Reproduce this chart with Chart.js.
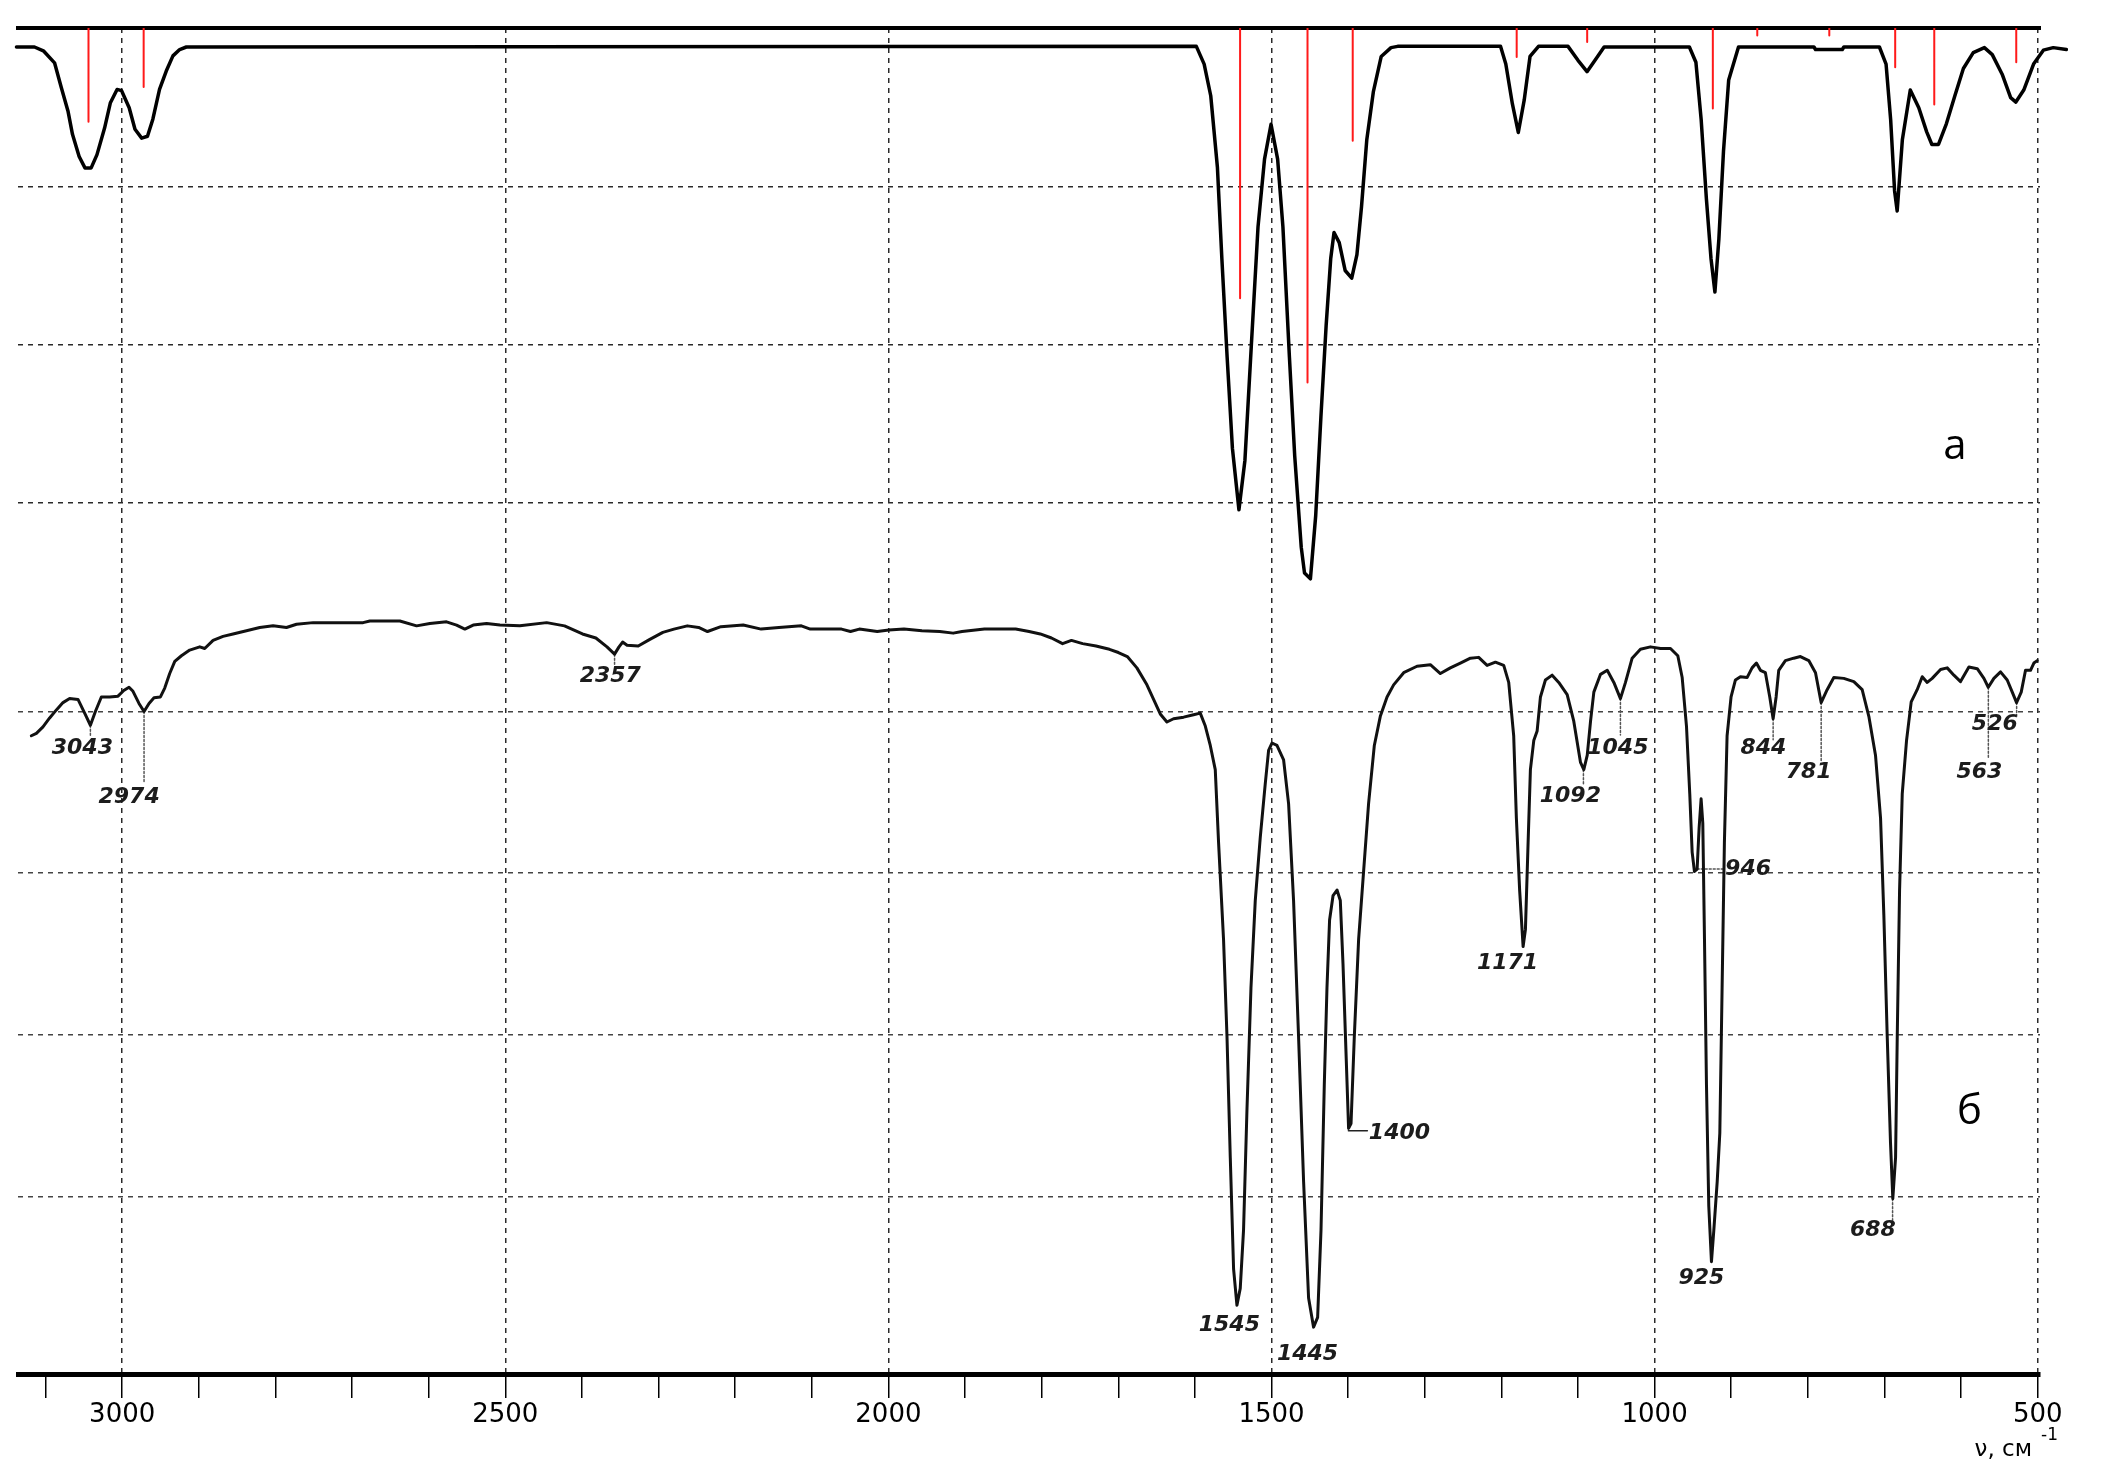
<!DOCTYPE html>
<html lang="ru">
<head>
<meta charset="UTF-8">
<title>ИК-спектры</title>
<script src="https://cdn.jsdelivr.net/npm/chart.js@4.4.1/dist/chart.umd.min.js"></script>
<style>
  html, body { margin: 0; padding: 0; background: #fff; overflow: hidden; }
  canvas { display: block; }
</style>
</head>
<body>
<canvas id="spectra" width="2126" height="1483"></canvas>
<script>
// spectrum (а): calculated, wavenumber cm-1 / transmittance
const specAWn = [3138, 3114.5, 3102.9, 3088.3, 3079.5, 3070.8, 3064.9, 3056.2, 3048.6, 3040.5, 3032.9, 3023, 3015.4,
  3006.7, 3000.8, 2990.9, 2983.3, 2974.6, 2967, 2960, 2951.3, 2942.5, 2933.8, 2925, 2916.3,
  1598.1, 1587.9, 1579.3, 1570.6, 1564.8, 1557.9, 1551, 1542.5, 1534.7, 1526.3, 1517.6, 1509.1, 1500.6,
  1492, 1485.1, 1476.6, 1469.7, 1461.2, 1456.9, 1449.2, 1442.3, 1435.5, 1428.7, 1422.7, 1418.4, 1411.6,
  1403.9, 1395.3, 1388.5, 1382.5, 1375.6, 1367.1, 1356.8, 1344, 1335.4,
  1201.1, 1194.2, 1185.6, 1177.9, 1170.2, 1162.6, 1151.5, 1113, 1100, 1088.2, 1076.2, 1065.9,
  954.6, 946.1, 939.2, 932.4, 926.4, 921.3, 916.1, 910.1, 903.3, 890.5, 792, 790, 755, 753,
  706.6, 697.9, 691.9, 686.8, 683.4, 676.6, 666.3, 655.2, 644.9, 638.1, 629.5, 619.1, 608.1, 597,
  584.1, 569.6, 559.3, 546.4, 535.3, 528.5, 518.2, 505.4, 492.6, 479.7, 462.6];
const specAT = [97.0, 97.0, 96.4, 94.5, 90.6, 86.9, 83.2, 79.7, 77.9, 77.9, 80.0, 84.2, 88.2,
  90.3, 90.1, 87.4, 84.0, 82.6, 82.9, 85.6, 90.3, 93.2, 95.6, 96.6, 97.0,
  97.1, 94.3, 89.3, 78.0, 63.6, 48.0, 33.6, 23.9, 31.7, 49.9, 68.6, 79.3, 84.8,
  79.3, 68.6, 48.0, 32.4, 18.0, 13.9, 13.0, 23.0, 38.6, 53.0, 63.6, 67.7, 66.1,
  61.7, 60.5, 64.2, 71.8, 82.4, 89.9, 95.5, 96.9, 97.1,
  97.1, 94.3, 88.0, 83.5, 88.6, 95.5, 97.1, 97.1, 94.9, 93.1, 95.2, 97.0,
  97.0, 94.6, 85.5, 73.0, 63.6, 58.3, 66.7, 80.5, 91.8, 97.0, 97.0, 96.6, 96.6, 97.0,
  97.0, 94.3, 85.5, 74.3, 71.1, 82.4, 90.2, 87.4, 83.6, 81.6, 81.6, 84.9, 89.3, 93.6,
  96.1, 96.9, 95.8, 92.7, 89.0, 88.3, 90.2, 94.3, 96.5, 96.9, 96.6];

// calculated band positions (red sticks) and the level each stick reaches
const stickWn = [3044, 2972, 1541, 1453, 1394, 1180, 1088, 924, 866, 772, 686, 635, 528];
const stickT = [85.2, 90.7, 57.3, 44.0, 82.2, 95.4, 97.8, 87.3, 98.8, 98.8, 93.8, 87.9, 94.6];

// spectrum (б): experimental
const specBWn = [3118.6, 3112, 3103.4, 3094.7, 3085.9, 3077.3, 3068.6, 3057.7, 3049, 3041.5, 3035, 3027.2, 3016.3,
  3005.5, 2998, 2991.1, 2985.9, 2978.1, 2971.5, 2965, 2958.5, 2950.1, 2944.5, 2938, 2931.4, 2922.7, 2911.9,
  2898.8, 2892.3, 2881.4, 2868.4, 2855.3, 2837.8, 2820.5, 2803.1, 2785.6, 2772.5, 2750.8, 2685.6, 2676.8,
  2637.6, 2615.8, 2598.5, 2576.7, 2563.6, 2552.8, 2541.9, 2524.4, 2507, 2481, 2446, 2422.7, 2399.3, 2381.8,
  2367.3, 2357.4, 2351.6, 2346.9, 2341.1, 2326.5, 2311.9, 2294.4, 2279.9, 2262.4, 2247.7, 2236.1, 2218.6,
  2189.5, 2166.1, 2142.9, 2113.6, 2102, 2061.2, 2049.5, 2037.9, 2014.6, 1999.4, 1979.7, 1956.3, 1933,
  1915.5, 1903.9, 1874.7, 1851.4, 1833.9, 1816.4, 1801.8, 1787.2, 1772.7, 1761.1, 1746.5, 1729, 1711.5,
  1699.8, 1688.2, 1675.7, 1662.6, 1653.9, 1645.2, 1636.5, 1627.8, 1614.7, 1601.7, 1593, 1586.4, 1579.9,
  1573.4, 1569.1, 1562.6, 1558.1, 1553.8, 1549.5, 1545.1, 1540.8, 1536.5, 1532, 1526.8, 1521.2, 1514.7,
  1508.2, 1503.8, 1499.4, 1492.9, 1484.2, 1477.7, 1471.2, 1464.7, 1458.1, 1451.6, 1445.1, 1439.8, 1435.4,
  1431.1, 1427.6, 1424.2, 1419.7, 1414.5, 1410.2, 1406.7, 1402.4, 1399.4, 1396.2, 1391.9, 1386.3, 1379.8,
  1373.3, 1365.8, 1358, 1349.2, 1340.6, 1327.5, 1310.1, 1292.7, 1279.6, 1266.6, 1253.5, 1240.4, 1229.6,
  1218.6, 1207.8, 1196.9, 1190.4, 1183.9, 1180.4, 1176.1, 1171.6, 1168.6, 1165.1, 1162.1, 1157.7, 1153.3,
  1149, 1142.5, 1133.7, 1125.1, 1114.1, 1105.5, 1096.7, 1092.4, 1087.9, 1083.6, 1079.3, 1070.6, 1061.8,
  1053.2, 1044.6, 1038, 1029.3, 1018.5, 1005.4, 992.3, 979.3, 969.7, 964, 958.4, 954.1, 951, 948, 944.5,
  941.9, 939.3, 937.1, 934.9, 932.3, 929.3, 925.8, 922.7, 918.3, 914.9, 911.9, 908.9, 905.4, 900.2, 894.5,
  888, 879.3, 872.8, 867.1, 861.9, 855.4, 849.7, 845.3, 841.4, 838, 829.3, 818.4, 809.7, 798.8, 790,
  782.6, 774.8, 766.1, 753.1, 740, 729.1, 720.4, 711.7, 705.1, 700.8, 696.4, 692.1, 689.1, 685.5, 683.3,
  680.3, 676.8, 671.2, 665.1, 657.3, 650.7, 644.2, 637.7, 626.8, 618.1, 609.4, 600.7, 589.8, 578.9, 570.2,
  564.5, 557.2, 548.5, 539.8, 533.2, 527.6, 521.5, 515.9, 509.4, 505, 500.6];
const specBT = [77.0, 77.3, 78.1, 79.2, 80.2, 81.1, 81.6, 81.5, 79.8, 78.3, 80.0, 81.8, 81.8,
  81.9, 82.6, 83.0, 82.5, 81.0, 80.0, 81.0, 81.7, 81.8, 82.9, 84.7, 86.2, 86.9, 87.6,
  88.0, 87.8, 88.8, 89.3, 89.6, 90.0, 90.4, 90.6, 90.4, 90.8, 91.0, 91.0, 91.2,
  91.2, 90.6, 90.9, 91.1, 90.7, 90.2, 90.7, 90.9, 90.7, 90.6, 91.0, 90.6, 89.6, 89.1,
  88.0, 87.1, 88.0, 88.6, 88.2, 88.1, 88.9, 89.8, 90.2, 90.6, 90.4, 89.9, 90.5,
  90.7, 90.2, 90.4, 90.6, 90.2, 90.2, 89.9, 90.2, 89.9, 90.1, 90.2, 90.0, 89.9,
  89.7, 89.9, 90.2, 90.2, 90.2, 89.9, 89.6, 89.1, 88.4, 88.8, 88.4, 88.1, 87.7,
  87.3, 86.8, 85.4, 83.3, 81.5, 79.7, 78.7, 79.1, 79.3, 79.6, 79.8, 78.2, 75.8,
  72.8, 63.8, 51.8, 39.8, 24.8, 11.0, 6.5, 8.6, 15.8, 30.8, 45.8, 56.6, 64.4,
  71.0, 75.2, 76.1, 75.8, 74.0, 68.6, 56.6, 39.8, 21.8, 7.4, 3.8, 5.0, 15.8,
  33.8, 45.8, 54.2, 57.2, 57.9, 56.6, 48.8, 36.8, 28.4, 29.0, 39.8, 51.8, 60.2,
  68.6, 75.8, 79.4, 81.8, 83.3, 84.8, 85.6, 85.8, 84.7, 85.4, 86.0, 86.6, 86.7,
  85.7, 86.1, 85.7, 83.6, 77.0, 66.8, 57.8, 50.9, 53.0, 63.8, 72.8, 76.4, 77.6,
  81.8, 83.9, 84.5, 83.6, 82.1, 78.8, 73.7, 72.8, 74.6, 78.8, 82.4, 84.6, 85.1,
  83.6, 81.6, 83.6, 86.6, 87.7, 88.0, 87.8, 87.8, 86.9, 84.2, 78.2, 69.8, 62.6, 60.2, 60.5,
  65.6, 69.2, 66.2, 51.8, 33.8, 18.8, 11.9, 15.8, 21.8, 27.8, 45.8, 63.8, 77.0, 81.8, 83.9,
  84.3, 84.2, 85.4, 86.0, 85.1, 84.8, 81.8, 79.1, 81.8, 85.1, 86.3, 86.6, 86.8, 86.3, 84.8,
  81.1, 82.7, 84.2, 84.1, 83.7, 82.7, 79.4, 74.6, 66.8, 54.8, 39.8, 26.6, 19.7, 24.8, 39.8,
  57.8, 69.8, 76.4, 81.2, 82.7, 84.3, 83.6, 84.1, 85.2, 85.4, 84.5, 83.7, 85.5, 85.3, 84.1,
  83.0, 84.1, 84.9, 83.9, 82.4, 81.1, 82.4, 85.1, 85.1, 86.0, 86.3];

// peak labels of spectrum (б): text and where it sits (wavenumber, transmittance)
const peakText = ['3043', '2974', '2357', '1545', '1445', '1400', '1171', '1092', '1045', '946', '925', '844', '781', '688', '563', '526'];
const peakWn = [3052, 2991, 2363, 1555, 1453, 1333, 1192, 1110, 1048, 878, 939, 858, 799, 715, 576, 556];
const peakT = [75.5, 69.4, 84.3, 4.0, 0.4, 27.8, 48.8, 69.5, 75.4, 60.5, 9.8, 75.5, 72.5, 15.8, 72.5, 78.4];

// dotted leader lines from band to label
const leaderFromWn = [3041.5, 2971.5, 2357.4, 1092.9, 1044.6, 944.4, 845.3, 782.6, 689.4, 564.4, 527.5];
const leaderFromT = [78.3, 80.0, 87.1, 72.8, 81.6, 60.5, 79.1, 81.1, 19.7, 83.0, 81.1];
const leaderToWn = [3041.5, 2971.5, 2357.4, 1092.9, 1044.6, 907.9, 845.3, 782.6, 689.4, 564.4, 527.5];
const leaderToT = [76.9, 71.3, 85.8, 70.9, 77.1, 60.5, 76.5, 73.8, 16.8, 74.3, 79.4];
// solid tick for 1400
const tick1400Wn = [1399.7, 1374.9];
const tick1400T = [28.1, 28.1];

const panelText = ['а', 'б'];
const panelWn = [608, 589];
const panelT = [33.8, 30.4];

const xLabelled = [3000, 2500, 2000, 1500, 1000, 500];
const gridA = [75, 50, 25];
const gridB = [80, 60, 40, 20];

const toPts = (xs, ys) => xs.map((v, i) => ({ x: v, y: ys[i] }));
const segments = (x1, y1, x2, y2) => {
  const out = [];
  x1.forEach((v, i) => {
    out.push({ x: v, y: y1[i] }, { x: x2[i], y: y2[i] }, { x: x2[i], y: null });
  });
  return out;
};

Chart.defaults.font.family = '"DejaVu Sans", sans-serif';
Chart.defaults.color = '#000';

const textLayer = {
  id: 'textLayer',
  afterDatasetsDraw(chart) {
    const { ctx, scales: { x, yA, yB } } = chart;
    ctx.save();
    ctx.textAlign = 'center';
    ctx.textBaseline = 'middle';
    ctx.fillStyle = '#1c1c1c';
    ctx.font = 'italic bold 22px "DejaVu Sans"';
    peakText.forEach((t, i) => {
      ctx.fillText(t, x.getPixelForValue(peakWn[i]), yB.getPixelForValue(peakT[i]));
    });
    ctx.fillStyle = '#000';
    ctx.font = '42px "Open Sans"';
    ctx.fillText(panelText[0], x.getPixelForValue(panelWn[0]), yA.getPixelForValue(panelT[0]));
    ctx.fillText(panelText[1], x.getPixelForValue(panelWn[1]), yB.getPixelForValue(panelT[1]));
    // axis caption
    ctx.font = '23px "DejaVu Sans"';
    ctx.textAlign = 'right';
    ctx.fillText('ν, см', x.right - 8, x.bottom - 33);
    ctx.font = '17px "DejaVu Sans"';
    ctx.textAlign = 'left';
    ctx.fillText('-1', x.right + 1, x.bottom - 47);
    ctx.restore();
  }
};

new Chart(document.getElementById('spectra'), {
  type: 'line',
  data: {
    datasets: [
      {
        data: toPts(stickWn.flatMap(v => [v, v, v]), stickT.flatMap(t => [100, t, null])),
        yAxisID: 'yA', borderColor: '#ff1a1a', borderWidth: 2, pointRadius: 0
      },
      {
        data: toPts(specAWn, specAT),
        yAxisID: 'yA', borderColor: '#000', borderWidth: 3.5, pointRadius: 0, clip: false
      },
      {
        data: toPts(specBWn, specBT),
        yAxisID: 'yB', borderColor: '#111', borderWidth: 3, pointRadius: 0
      },
      {
        data: segments(leaderFromWn, leaderFromT, leaderToWn, leaderToT),
        yAxisID: 'yB', borderColor: '#555', borderWidth: 1.5, borderDash: [2, 2], pointRadius: 0
      },
      {
        data: toPts(tick1400Wn, tick1400T),
        yAxisID: 'yB', borderColor: '#222', borderWidth: 1.5, pointRadius: 0
      }
    ]
  },
  options: {
    responsive: false,
    devicePixelRatio: 1,
    animation: false,
    layout: { padding: { left: 18, right: 86, top: 0, bottom: 0 } },
    plugins: { legend: { display: false }, tooltip: { enabled: false } },
    elements: { line: { tension: 0, borderJoinStyle: 'round', borderCapStyle: 'round' } },
    scales: {
      x: {
        type: 'linear', position: 'bottom', reverse: true, min: 497, max: 3136,
        offset: false,
        afterFit: s => { s.height = 109; },
        afterBuildTicks: s => { s.ticks = s.ticks.filter(t => Math.abs(t.value % 100) < 1e-6); },
        ticks: {
          stepSize: 100, includeBounds: false, autoSkip: false, maxRotation: 0, padding: 2,
          font: { size: 26 }, color: '#000',
          callback: v => (xLabelled.includes(v) ? String(v) : '')
        },
        grid: {
          offset: false,
          color: c => (xLabelled.includes(c.tick.value) ? '#2a2a2a' : 'rgba(0,0,0,0)'),
          lineWidth: 1.5, tickLength: 24, tickColor: '#000', tickWidth: 1.5, tickBorderDash: []
        },
        border: { display: true, color: '#000', width: 5, dash: [5, 5] }
      },
      x2: {
        type: 'linear', position: 'top', reverse: true, min: 497, max: 3136,
        afterFit: s => { s.height = 28; },
        ticks: { display: false },
        grid: { display: false },
        border: { display: true, color: '#000', width: 4 }
      },
      yA: {
        type: 'linear', position: 'left', min: -112.6, max: 100,
        afterFit: s => { s.width = 0; },
        afterBuildTicks: s => { s.ticks = gridA.map(v => ({ value: v })); },
        ticks: { display: false },
        grid: { color: '#2a2a2a', lineWidth: 1.5, drawTicks: false },
        border: { display: false, dash: [5, 5] }
      },
      yB: {
        type: 'linear', position: 'left', min: -2.0, max: 164.6,
        afterFit: s => { s.width = 0; },
        afterBuildTicks: s => { s.ticks = gridB.map(v => ({ value: v })); },
        ticks: { display: false },
        grid: { color: '#444', lineWidth: 1.5, drawTicks: false },
        border: { display: false, dash: [5, 5] }
      }
    }
  },
  plugins: [textLayer]
});
</script>
</body>
</html>
